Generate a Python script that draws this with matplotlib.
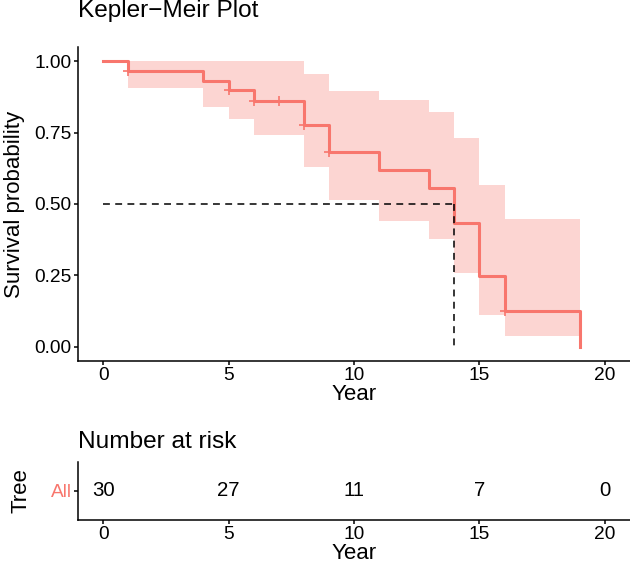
import matplotlib
matplotlib.use("Agg")
import matplotlib.pyplot as plt
import numpy as np

plt.rcParams['font.family'] = ['Liberation Sans', 'DejaVu Sans']

# Kaplan-Meier estimate
time = [0, 1, 4, 5, 6, 8, 9, 11, 13, 14, 15, 16, 19]
surv = [1.0, 0.967, 0.932, 0.898, 0.862, 0.778, 0.681, 0.619, 0.557, 0.433, 0.247, 0.124, 0.0]
upper = [1.0, 1.0, 1.0, 1.0, 1.0, 0.957, 0.897, 0.864, 0.823, 0.730, 0.566, 0.448, 0.448]
lower = [1.0, 0.905, 0.840, 0.797, 0.741, 0.631, 0.514, 0.440, 0.376, 0.258, 0.110, 0.036, 0.036]
censor_times = [1, 5, 6, 7, 8, 9, 16]
median_time = 14

# risk table
risk_times = [0, 5, 10, 15, 20]
risk_counts = [30, 27, 11, 7, 0]
strata = ["All"]

col = "#F8766D"
W, H = 630, 566

fig = plt.figure(figsize=(W / 100, H / 100), dpi=100)
ax = fig.add_axes([78 / W, 1 - 361 / H, 552 / W, 314 / H])
rt = fig.add_axes([78 / W, 1 - 520 / H, 552 / W, 58.3 / H])

ax.fill_between(time, lower, upper, step="post", color=col, alpha=0.3, lw=0)
ax.step(time, surv, where="post", color=col, lw=2.2)

# censor marks sit on the curve
idx = np.searchsorted(time, censor_times, side="right") - 1
ax.plot(censor_times, np.array(surv)[idx], ls="none", marker="+", ms=7, mew=1.2, color=col)

# median survival lines
dash = (0, (4.5, 3.5))
ax.plot([0, median_time], [0.5, 0.5], ls=dash, color="black", lw=1.1)
ax.plot([median_time, median_time], [0.5, 0], ls=dash, color="black", lw=1.1)

for a in (ax, rt):
    a.set_xlim(-1, 21)
    a.set_xticks([0, 5, 10, 15, 20])
    for s in ("top", "right"):
        a.spines[s].set_visible(False)
    for s in ("left", "bottom"):
        a.spines[s].set_linewidth(1.1)
    a.tick_params(length=3, width=1.1, labelsize=13.8, pad=1.5, colors="black")
    a.set_xlabel("Year", fontsize=16, labelpad=0)

ax.set_ylim(-0.05, 1.05)
ax.set_yticks([0, 0.25, 0.5, 0.75, 1.0])
ax.set_yticklabels(["0.00", "0.25", "0.50", "0.75", "1.00"])
ax.set_ylabel("Survival probability", fontsize=16, labelpad=7)

rt.set_ylim(0, 1)
rt.set_yticks([0.5])
rt.set_yticklabels(strata)
rt.get_yticklabels()[0].set_color(col)
rt.set_ylabel("Tree", fontsize=16, labelpad=14)
for t, n in zip(risk_times, risk_counts):
    rt.text(t, 0.5, str(n), ha="center", va="center", fontsize=14.7)

fig.text(78 / W, 1 - 17.5 / H, "Kepler\u2212Meir Plot", fontsize=17.6, va="baseline", ha="left")
fig.text(78 / W, 1 - 447.7 / H, "Number at risk", fontsize=17.6, va="baseline", ha="left")

fig.savefig("out.png", dpi=100)
